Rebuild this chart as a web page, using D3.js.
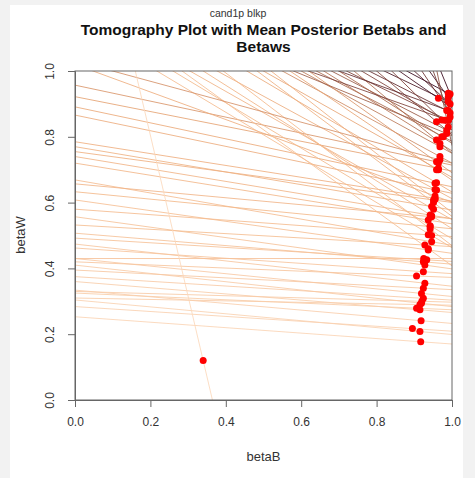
<!DOCTYPE html>
<html>
<head>
<meta charset="utf-8">
<script src="https://cdn.jsdelivr.net/npm/d3@7"></script>
<style>
  body { margin: 0; background: #f2f2f2; }
  svg { display: block; font-family: "Liberation Sans", Arial, sans-serif; }
</style>
</head>
<body>
<div id="chart"></div>
<script>
var w = 475;
var h = 478;

// mean posterior betaB / betaW of each precinct (red dots)
var pointB = [0.917, 0.915, 0.895, 0.918, 0.906, 0.915, 0.919, 0.924, 0.919, 0.924,
              0.928, 0.906, 0.924, 0.928, 0.933, 0.924, 0.937, 0.928, 0.946, 0.937,
              0.942, 0.946, 0.915, 0.920, 0.925,
              0.937, 0.942, 0.946, 0.951, 0.955, 0.959, 0.955, 0.964, 0.959,
              0.955, 0.946, 0.942, 0.937, 0.951, 0.946, 0.955, 0.942, 0.959, 0.951,
              0.964, 0.955, 0.968, 0.959, 0.968, 0.964, 0.977, 0.968, 0.986, 0.973,
              0.990, 0.959, 0.981, 0.986, 0.959, 0.990, 0.973, 0.964, 0.990, 0.995,
              0.995, 0.990, 0.995, 0.990, 0.995, 0.990, 0.990, 0.986, 0.968, 0.340];
var pointW = [0.177, 0.208, 0.217, 0.241, 0.279, 0.274, 0.294, 0.309, 0.324, 0.340,
              0.355, 0.377, 0.390, 0.410, 0.426, 0.420, 0.456, 0.471, 0.481, 0.502,
              0.527, 0.557, 0.290, 0.300, 0.430,
              0.547, 0.562, 0.588, 0.608, 0.613, 0.638, 0.659, 0.704, 0.724,
              0.620, 0.500, 0.530, 0.460, 0.580, 0.560, 0.640, 0.520, 0.660, 0.600,
              0.700, 0.610, 0.740, 0.700, 0.770, 0.720, 0.800, 0.780, 0.820, 0.800,
              0.850, 0.790, 0.850, 0.880, 0.846, 0.907, 0.851, 0.917, 0.932, 0.900,
              0.872, 0.920, 0.860, 0.830, 0.930, 0.850, 0.880, 0.810, 0.730, 0.120];
// betaW where each precinct's tomography line meets betaB = 0
var interceptW = [0.253, 0.304, 0.284, 0.334, 0.325, 0.360, 0.410, 0.375, 0.430, 0.395,
                  0.474, 0.420, 0.462, 0.557, 0.492, 0.507, 0.608, 0.532, 0.669, 0.580,
                  0.633, 0.657, 0.310, 0.330, 0.430,
                  0.720, 0.740, 0.770, 0.755, 0.785, 0.866, 0.891, 0.922, 0.957,
                  1.020, 1.149, 1.179, 1.235, 1.198, 1.247, 1.235, 1.344, 1.308, 1.413,
                  1.323, 1.466, 1.342, 1.440, 1.375, 1.505, 1.380, 1.471, 1.400, 1.513,
                  1.400, 1.710, 1.516, 1.454, 1.775, 1.449, 1.941, 1.686, 1.544, 1.947,
                  2.570, 2.504, 3.956, 6.440, 3.716, 1.251, 1.290, 1.271, 1.031, 1.782];

var ticks = [0, 0.2, 0.4, 0.6, 0.8, 1.0];

var precincts = pointB.map(function(b, i) {
  var m = (pointW[i] - interceptW[i]) / b;
  return {b: b, w: pointW[i], w0: interceptW[i], w1: interceptW[i] + m};
});

var svg = d3.select("#chart")
            .append("svg")
            .attr("width", w)
            .attr("height", h);

svg.append("rect")
   .attr("x", 10).attr("y", 5)
   .attr("width", 453).attr("height", h - 5)
   .attr("fill", "white");

var x = d3.scaleLinear().domain([0, 1]).range([75, 452]);
var y = d3.scaleLinear().domain([0, 1]).range([400, 71]);

var color = d3.scaleLinear()
              .domain([0.1, 0.5, 0.7, 0.8, 0.9])
              .range(["#fbd9bd", "#f5bb8e", "#e8a474", "#a8664a", "#4f1a24"]);

svg.append("clipPath")
   .attr("id", "plotclip")
   .append("rect")
   .attr("x", 75).attr("y", 71)
   .attr("width", 377).attr("height", 329);

svg.append("g")
   .attr("clip-path", "url(#plotclip)")
   .selectAll("line")
   .data(precincts)
   .enter()
   .append("line")
   .attr("x1", x(0))
   .attr("y1", function(d) { return y(d.w0); })
   .attr("x2", x(1))
   .attr("y2", function(d) { return y(d.w1); })
   .attr("stroke", function(d) { return color(d.w); })
   .attr("stroke-width", 1)
   .attr("stroke-opacity", 0.85);

// frame
svg.append("rect")
   .attr("x", 75).attr("y", 71)
   .attr("width", 377).attr("height", 329)
   .attr("fill", "none")
   .attr("stroke", "#666")
   .attr("stroke-width", 1);

svg.selectAll("circle")
   .data(precincts)
   .enter()
   .append("circle")
   .attr("cx", function(d) { return x(d.b); })
   .attr("cy", function(d) { return y(d.w); })
   .attr("r", 3.5)
   .attr("fill", "#ff0000");

var xAxis = svg.append("g")
   .attr("transform", "translate(0,400)")
   .call(d3.axisBottom(x).tickValues(ticks).tickFormat(d3.format(".1f")).tickSize(7).tickPadding(10));
var yAxis = svg.append("g")
   .attr("transform", "translate(75,0)")
   .call(d3.axisLeft(y).tickValues(ticks).tickFormat(d3.format(".1f")).tickSize(7));

svg.selectAll(".domain").attr("stroke", "#666");
svg.selectAll(".tick line").attr("stroke", "#666");
xAxis.selectAll("text")
     .attr("font-size", "12px")
     .attr("fill", "#333")
     .attr("font-family", "Liberation Sans, Arial, sans-serif");
yAxis.selectAll("text")
     .attr("transform", "rotate(-90)")
     .attr("x", 0)
     .attr("y", -21)
     .attr("dy", 0)
     .attr("text-anchor", "middle")
     .attr("font-size", "12px")
     .attr("fill", "#333")
     .attr("font-family", "Liberation Sans, Arial, sans-serif");

svg.append("text")
   .attr("x", 263.5).attr("y", 461)
   .attr("text-anchor", "middle")
   .attr("font-size", "13px")
   .attr("fill", "#333")
   .text("betaB");

svg.append("text")
   .attr("transform", "translate(25,235) rotate(-90)")
   .attr("text-anchor", "middle")
   .attr("font-size", "13px")
   .attr("fill", "#333")
   .text("betaW");

svg.append("text")
   .attr("x", 238).attr("y", 17)
   .attr("text-anchor", "middle")
   .attr("font-size", "10.5px")
   .attr("fill", "#333")
   .text("cand1p blkp");

svg.append("text")
   .attr("x", 263.5).attr("y", 35)
   .attr("text-anchor", "middle")
   .attr("font-size", "15.5px")
   .attr("font-weight", "bold")
   .attr("fill", "#111")
   .text("Tomography Plot with Mean Posterior Betabs and");

svg.append("text")
   .attr("x", 263.5).attr("y", 52)
   .attr("text-anchor", "middle")
   .attr("font-size", "15.5px")
   .attr("font-weight", "bold")
   .attr("fill", "#111")
   .text("Betaws");
</script>
</body>
</html>
